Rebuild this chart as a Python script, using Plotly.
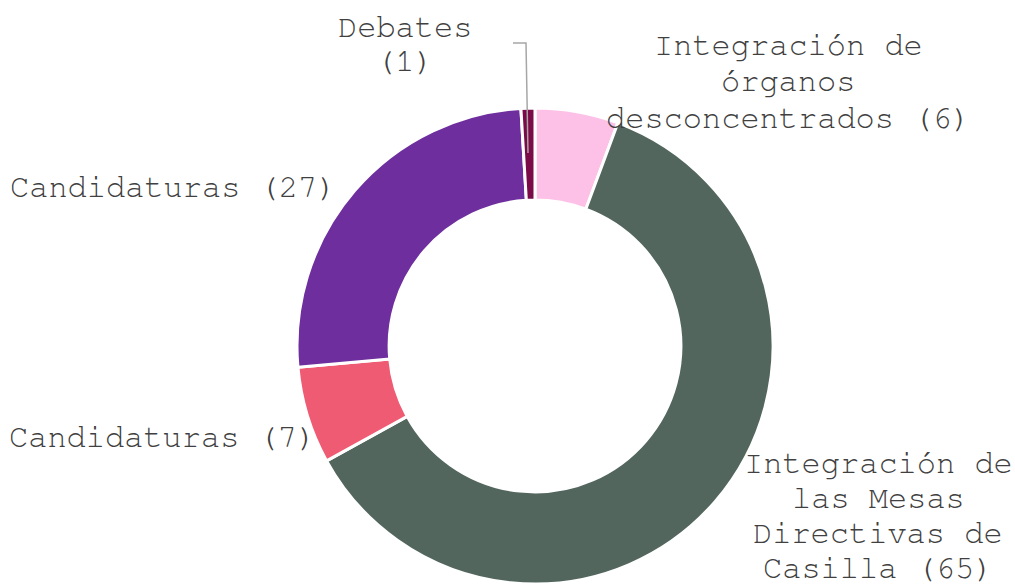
import plotly.graph_objects as go

categories = ["Integración de órganos desconcentrados",
              "Integración de las Mesas Directivas de Casilla",
              "Candidaturas", "Candidaturas", "Debates"]
values = [6, 65, 7, 27, 1]
colors = ["#FDC1E7", "#52665E", "#EF5B72", "#6F2E9E", "#7A0A48"]

# label lines (text shown around the ring) per slice
label_lines = [
    ["Integración de", "órganos", "desconcentrados (6)"],
    ["Integración de", "las Mesas", "Directivas de", "Casilla (65)"],
    ["Candidaturas (7)"],
    ["Candidaturas (27)"],
    ["Debates", "(1)"],
]

W, H = 1015, 585
cx, cy, R = 535, 346, 238

fig = go.Figure(go.Pie(
    labels=[f"{c} ({v})" for c, v in zip(categories, values)],
    values=values,
    sort=False,
    direction="clockwise",
    rotation=0,
    hole=0.613,
    textinfo="none",
    marker=dict(colors=colors, line=dict(color="white", width=3)),
    domain=dict(x=[(cx - R) / W, (cx + R) / W], y=[(H - cy - R) / H, (H - cy + R) / H]),
    showlegend=False,
))

# label anchor positions (pixel centre x, first baseline y, line step)
anchors = [(788, 54, 36), (878, 471, 35), (162, 445, 0), (173, 195, 0), (405, 35, 34)]
font = dict(family="Nimbus Mono PS, FreeMono, Courier, Courier New, monospace", size=32, color="#404040")
for lines, (ax, by, step) in zip(label_lines, anchors):
    for i, t in enumerate(lines):
        yb = by + i * step
        fig.add_annotation(x=ax / W, y=1 - (yb - 8) / H, xref="paper", yref="paper",
                           text=t, showarrow=False, xanchor="center", yanchor="middle",
                           font=font)

# leader line for the small slice
fig.add_shape(type="path", xref="paper", yref="paper",
              path=f"M {513/W} {1-43/H} L {526/W} {1-43/H} L {528/W} {1-153/H}",
              line=dict(color="#A6A6A6", width=1.5))

fig.update_layout(width=W, height=H, margin=dict(l=0, r=0, t=0, b=0),
                  paper_bgcolor="white", plot_bgcolor="white")
fig.write_html("out.html")
